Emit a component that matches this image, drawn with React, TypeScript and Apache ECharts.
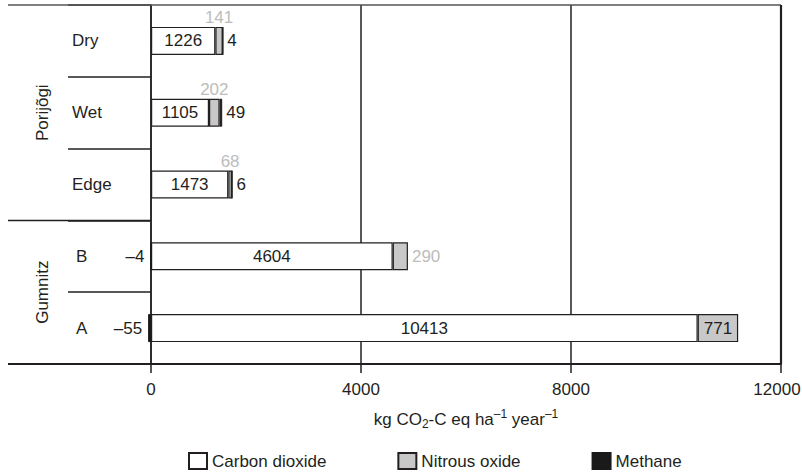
import React, { useEffect, useRef } from "react";
import * as echarts from "echarts";

const categories = ["Dry", "Wet", "Edge", "B", "A"];
const carbonDioxide = [1226, 1105, 1473, 4604, 10413];
const nitrousOxide = [141, 202, 68, 290, 771];
const methane = [4, 49, 6, -4, -55];
const xMin = 0;
const xMax = 12000;
const xInterval = 4000;
const groups = [
  { name: "Porijõgi", from: 0, to: 2 },
  { name: "Gumnitz", from: 3, to: 4 },
];

// styling
const n2oLabelPlacement = ["top", "top", "top", "right", "inside"];
const FONT = "'Liberation Sans', Arial, Helvetica, sans-serif";
const FS = 17;
const INK = "#231f20";
const LIGHT = "#bcbcbc";
const W = 802;
const H = 472;
const G = { left: 151, right: 21, top: 5, bottom: 108 };

export default function App() {
  const ref = useRef<HTMLDivElement>(null);
  useEffect(() => {
    if (!ref.current) return;
    const chart = echarts.init(ref.current, null, { renderer: "svg" });
    const plotTop = G.top;
    const plotBottom = H - G.bottom;
    const plotRight = W - G.right;
    const catH = (plotBottom - plotTop) / categories.length;
    const edgeX = 8;

    const graphics: any[] = [];
    const line = (x1: number, y1: number, x2: number, y2: number, w = 1.5, c = INK) =>
      graphics.push({
        type: "line",
        silent: true,
        shape: { x1, y1, x2, y2 },
        style: { stroke: c, lineWidth: w },
        z: 10,
      });
    line(edgeX, plotTop, plotRight, plotTop, 1.5, "#555");
    line(edgeX, plotBottom, G.left, plotBottom, 2);
    line(plotRight, plotTop, plotRight, plotBottom, 2.2);
    groups.forEach((g, gi) => {
      if (gi > 0) {
        const y = plotTop + g.from * catH;
        line(edgeX, y, G.left, y, 1.5);
      }
      graphics.push({
        type: "text",
        silent: true,
        x: 42,
        y: plotTop + ((g.from + g.to + 1) / 2) * catH,
        rotation: Math.PI / 2,
        style: {
          text: g.name,
          fontSize: FS,
          fontFamily: FONT,
          fill: INK,
          align: "center",
          verticalAlign: "middle",
        },
      });
    });

    const option: any = {
      animation: false,
      backgroundColor: "#fff",
      textStyle: { fontFamily: FONT },
      grid: {
        left: G.left,
        right: G.right,
        top: G.top,
        bottom: G.bottom,
        containLabel: false,
        outerBoundsMode: "none",
      },
      legend: {
        left: 188,
        top: 452,
        padding: 0,
        itemWidth: 18,
        itemHeight: 16,
        itemGap: 71,
        textStyle: { fontSize: FS, color: INK, fontFamily: FONT },
        data: [
          { name: "Carbon dioxide", icon: "rect" },
          { name: "Nitrous oxide", icon: "rect" },
          { name: "Methane", icon: "rect" },
        ],
      },
      xAxis: {
        type: "value",
        min: xMin,
        max: xMax,
        interval: xInterval,
        axisLine: { show: true, lineStyle: { color: INK, width: 2 } },
        axisTick: { show: true, length: 9, lineStyle: { color: INK, width: 1.5 } },
        axisLabel: {
          fontSize: FS,
          color: INK,
          margin: 17,
          fontFamily: FONT,
          formatter: (v: number) => (v === xMax ? "{r|" + v + "}" : String(v)),
          rich: { r: { fontSize: FS, color: INK, fontFamily: FONT, padding: [0, 8, 0, 0] } },
        },
        splitLine: { show: true, lineStyle: { color: INK, width: 1.5 } },
        name: "{a|kg CO}{sub|2}{a|-C eq ha}{sup|–1}{a| year}{sup|–1}",
        nameLocation: "middle",
        nameGap: 44,
        nameTextStyle: {
          fontFamily: FONT,
          color: INK,
          rich: {
            a: { fontSize: FS, fontFamily: FONT, color: INK, lineHeight: 22, verticalAlign: "middle" },
            sub: { fontSize: 12, fontFamily: FONT, color: INK, lineHeight: 22, verticalAlign: "bottom" },
            sup: { fontSize: 12, fontFamily: FONT, color: INK, lineHeight: 22, verticalAlign: "top" },
          },
        },
      },
      yAxis: {
        type: "category",
        inverse: true,
        data: categories,
        axisLine: { show: true, lineStyle: { color: INK, width: 1.5 } },
        axisTick: { show: true, interval: 0, length: 83, lineStyle: { color: INK, width: 1.5 } },
        axisLabel: {
          align: "left",
          margin: 79,
          fontSize: FS,
          color: INK,
          fontFamily: FONT,
          formatter: (v: string) => (v.length === 1 ? "{s|" + v + "}" : v),
          rich: { s: { fontSize: FS, color: INK, fontFamily: FONT, padding: [0, 0, 0, 4] } },
        },
        splitLine: { show: false },
      },
      series: [
        {
          name: "Carbon dioxide",
          type: "bar",
          stack: "total",
          barWidth: 28,
          clip: false,
          itemStyle: { color: "#ffffff", borderColor: INK, borderWidth: 1.2 },
          label: { show: true, position: "inside", fontSize: FS, color: INK, fontFamily: FONT },
          data: carbonDioxide,
        },
        {
          name: "Nitrous oxide",
          type: "bar",
          stack: "total",
          barWidth: 28,
          clip: false,
          itemStyle: { color: "#c8c8c8", borderColor: INK, borderWidth: 1.2 },
          data: nitrousOxide.map((v, i) => {
            const pos = n2oLabelPlacement[i];
            return {
              value: v,
              label: {
                show: true,
                position: pos,
                distance: pos === "top" ? 1 : 4,
                fontSize: FS,
                fontFamily: FONT,
                color: pos === "inside" ? INK : LIGHT,
              },
            };
          }),
        },
        {
          name: "Methane",
          type: "bar",
          stack: "total",
          barWidth: 28,
          clip: false,
          itemStyle: { color: "#1a1a1a", borderColor: "#1a1a1a", borderWidth: 1 },
          data: methane.map((v) => ({
            value: v,
            label: {
              show: true,
              position: v < 0 ? "left" : "right",
              distance: v < 0 ? 6 : 4,
              fontSize: FS,
              fontFamily: FONT,
              color: INK,
              formatter: (p: any) => (p.value < 0 ? "\u2013" + Math.abs(p.value) : String(p.value)),
            },
          })),
        },
      ],
      graphic: graphics,
    };
    chart.setOption(option);
    return () => chart.dispose();
  }, []);
  return (
    <div
      ref={ref}
      style={{ position: "fixed", left: 0, top: 0, width: W, height: H, background: "#fff" }}
    />
  );
}
